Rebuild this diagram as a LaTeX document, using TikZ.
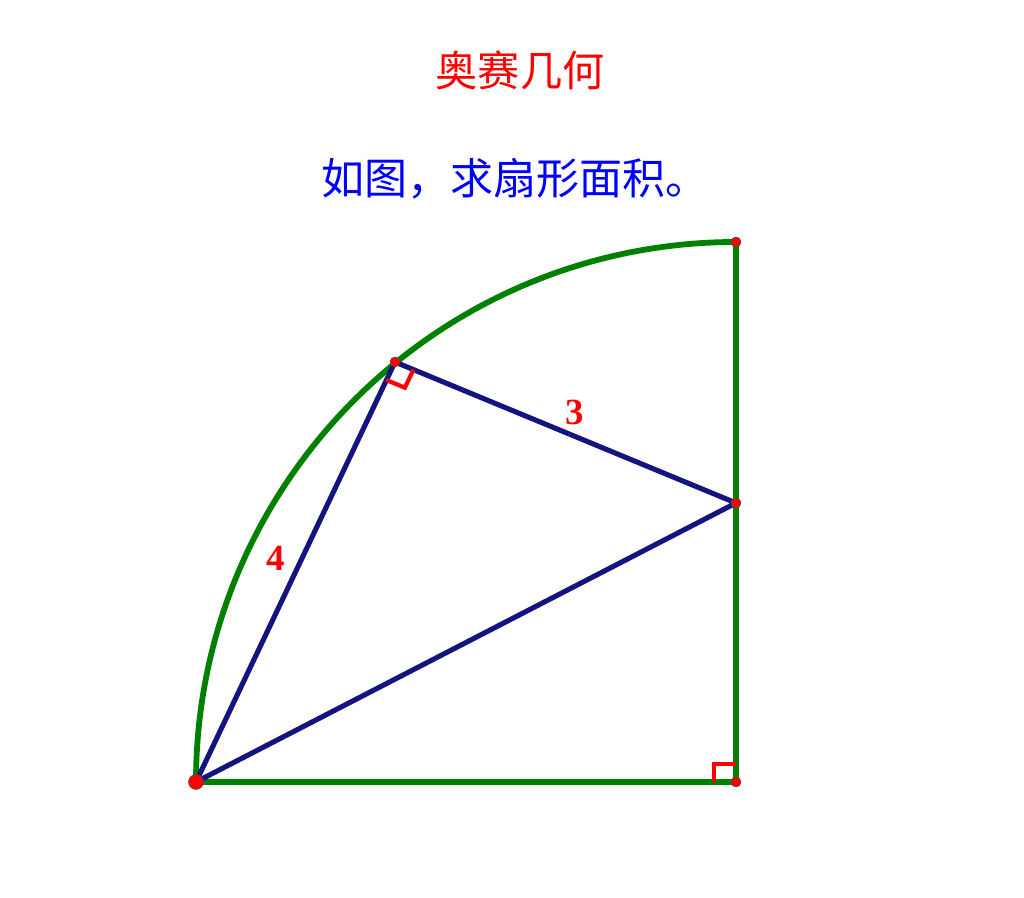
\documentclass[tikz,border=0pt]{standalone}
\usepackage{fontspec}
\setmainfont{Liberation Serif}
\newfontfamily\cjk{Noto Sans CJK SC}
\usetikzlibrary{calc}
\definecolor{arcgreen}{RGB}{0,128,0}
\definecolor{navy}{RGB}{20,20,128}
\begin{document}
\begin{tikzpicture}[
    sector/.style={arcgreen, line width=3.3pt},
    chord/.style={navy, line width=2.9pt},
    rightmark/.style={red, line width=2.4pt},
    pt/.style={circle, fill=red, draw=black!70, line width=0.3pt, inner sep=0pt, minimum size=#1},
    pt/.default=0.2cm,
    lbl/.style={red, font=\bfseries\fontsize{21}{24}\selectfont}
  ]
    \useasboundingbox (0,0) rectangle (20.48,17.96);

    % Titles
    \node (title) [red, font=\cjk\fontsize{24}{27}\selectfont] at (10.4, 16.56) {奥赛几何};
    \node (task) [blue, font=\cjk\fontsize{24.5}{27}\selectfont] at (10.3, 14.38) {如图，求扇形面积。};

    % Points
    \coordinate (O) at (3.92, 2.32);
    \coordinate (C) at (14.72, 2.32);
    \coordinate (T) at (14.72, 13.12);
    \coordinate (A) at (7.9, 10.72);
    \coordinate (B) at (14.72, 7.9);

    % Sector
    \draw[sector] (O) arc[start angle=180, end angle=90, radius=10.8];
    \draw[sector] (O) -- (C) -- (T);

    % Triangle
    \draw[chord, line join=round] (O) -- (A) -- (B) -- cycle;

    % Right angle marks
    \coordinate (A1) at ($(A)!0.4cm!(O)$);
    \coordinate (A2) at ($(A)!0.4cm!(B)$);
    \draw[rightmark] (A1) -- ($(A1)+(A2)-(A)$) -- (A2);
    \draw[rightmark] ($(C)+(-0.44,0)$) -- ($(C)+(-0.44,0.36)$) -- ($(C)+(0,0.36)$);

    % Lengths
    \node (four) [lbl] at (5.52, 6.8) {4};
    \node (three) [lbl] at (11.5, 9.72) {3};

    % Dots
    \node (dO) [pt=0.3cm] at (O) {};
    \node (dA) [pt] at (A) {};
    \node (dB) [pt] at (B) {};
    \node (dT) [pt] at (T) {};
    \node (dC) [pt] at (C) {};
\end{tikzpicture}
\end{document}
